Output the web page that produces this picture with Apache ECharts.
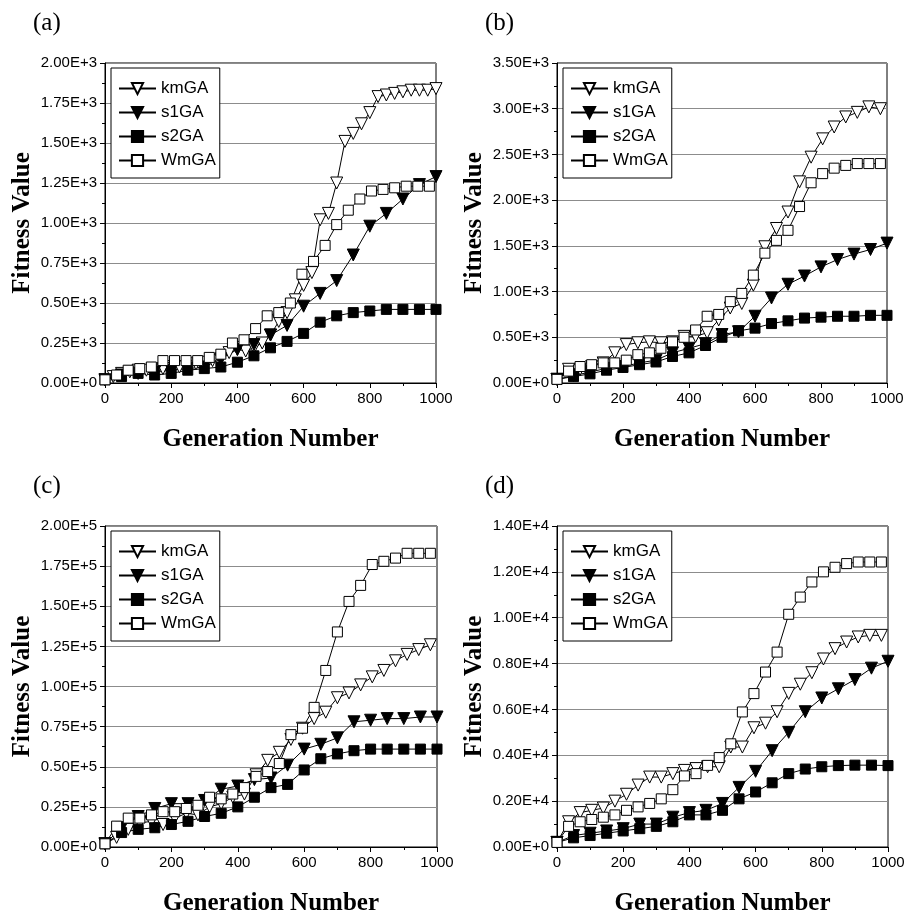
<!DOCTYPE html>
<html>
<head>
<meta charset="utf-8">
<script src="https://cdn.jsdelivr.net/npm/echarts@6/dist/echarts.min.js"></script>
<style>
html,body{margin:0;padding:0;background:#fff}
#main{width:905px;height:914px}
</style>
</head>
<body>
<div id="main"></div>
<script>
// generation numbers where markers sit
var gen25=[0,25,50,75,100,125,150,175,200,225,250,275,300,325,350,375,400,425,450,475,500,525,550,575,600,625,650,675,700,725,750,775,800,825,850,875,900,925,950,975,1000];
var gen35=[0,35,70,105,140,175,210,245,280,315,350,385,420,455,490,525,560,595,630,665,700,735,770,805,840,875,910,945,980];
var gen50=[0,50,100,150,200,250,300,350,400,450,500,550,600,650,700,750,800,850,900,950,1000];

// (a) values in E+3
var kmA=[0.02,0.04,0.06,0.07,0.08,0.08,0.08,0.09,0.09,0.10,0.11,0.12,0.13,0.14,0.15,0.19,0.21,0.20,0.22,0.25,0.30,0.385,0.44,0.52,0.61,0.69,1.02,1.06,1.25,1.51,1.56,1.62,1.69,1.79,1.80,1.81,1.82,1.83,1.83,1.83,1.84];
var s1A=[0.02,0.05,0.06,0.07,0.08,0.09,0.10,0.15,0.21,0.24,0.30,0.36,0.48,0.56,0.64,0.80,0.98,1.06,1.15,1.24,1.29];
var s2A=[0.02,0.04,0.06,0.05,0.06,0.08,0.09,0.10,0.13,0.17,0.22,0.26,0.31,0.38,0.42,0.44,0.45,0.46,0.46,0.46,0.46];
var wmA=[0.02,0.05,0.08,0.09,0.10,0.14,0.14,0.14,0.14,0.16,0.18,0.25,0.27,0.34,0.42,0.44,0.50,0.68,0.76,0.86,0.99,1.08,1.15,1.20,1.21,1.22,1.23,1.23,1.23];

// (b) values in E+3
var kmB=[0.04,0.15,0.15,0.18,0.22,0.33,0.42,0.44,0.45,0.44,0.45,0.51,0.51,0.55,0.69,0.82,0.87,1.07,1.49,1.69,1.87,2.20,2.47,2.67,2.80,2.91,2.96,3.02,3.00];
var s1B=[0.04,0.08,0.12,0.16,0.18,0.22,0.25,0.33,0.38,0.43,0.53,0.56,0.73,0.93,1.08,1.17,1.27,1.35,1.41,1.46,1.53];
var s2B=[0.04,0.07,0.10,0.14,0.17,0.20,0.23,0.29,0.33,0.41,0.50,0.57,0.60,0.65,0.68,0.71,0.72,0.73,0.73,0.74,0.74];
var wmB=[0.04,0.13,0.18,0.20,0.22,0.22,0.25,0.31,0.33,0.38,0.45,0.50,0.58,0.73,0.75,0.89,0.98,1.18,1.42,1.56,1.67,1.93,2.19,2.29,2.35,2.38,2.40,2.40,2.40];

// (c) values in E+5
var kmC=[0.02,0.06,0.11,0.15,0.16,0.14,0.18,0.21,0.20,0.25,0.27,0.31,0.33,0.45,0.54,0.59,0.67,0.74,0.80,0.84,0.93,0.96,1.01,1.06,1.10,1.16,1.20,1.23,1.26];
var s1C=[0.02,0.12,0.19,0.24,0.27,0.27,0.29,0.36,0.38,0.42,0.43,0.51,0.61,0.64,0.68,0.78,0.79,0.80,0.80,0.81,0.81];
var s2C=[0.02,0.09,0.11,0.12,0.14,0.16,0.19,0.21,0.25,0.31,0.37,0.39,0.48,0.55,0.58,0.60,0.61,0.61,0.61,0.61,0.61];
var wmC=[0.02,0.13,0.18,0.18,0.20,0.22,0.22,0.24,0.26,0.31,0.30,0.33,0.37,0.44,0.47,0.52,0.70,0.74,0.87,1.10,1.34,1.53,1.63,1.76,1.78,1.80,1.83,1.83,1.83];

// (d) values in E+4
var kmD=[0.02,0.11,0.15,0.16,0.17,0.20,0.23,0.27,0.305,0.305,0.32,0.334,0.342,0.35,0.35,0.436,0.436,0.52,0.54,0.59,0.67,0.71,0.76,0.82,0.865,0.894,0.916,0.923,0.923];
var s1D=[0.02,0.05,0.06,0.07,0.08,0.10,0.10,0.13,0.15,0.16,0.19,0.26,0.33,0.42,0.50,0.59,0.65,0.69,0.73,0.78,0.81];
var s2D=[0.02,0.04,0.05,0.06,0.07,0.08,0.09,0.11,0.14,0.14,0.16,0.21,0.24,0.28,0.32,0.34,0.35,0.355,0.357,0.357,0.355];
var wmD=[0.02,0.09,0.11,0.12,0.13,0.14,0.16,0.175,0.19,0.21,0.25,0.31,0.32,0.356,0.39,0.45,0.589,0.669,0.763,0.85,1.015,1.09,1.156,1.20,1.22,1.236,1.243,1.243,1.243];

var names=['kmGA','s1GA','s2GA','WmGA'];

var panels=[
  {tag:'(a)',exp:3,max:2.0,step:0.25,x:105,y:63,w:331,h:320,km:[gen25,kmA],s1:s1A,s2:s2A,wm:wmA},
  {tag:'(b)',exp:3,max:3.5,step:0.5,x:557,y:63,w:330,h:320,km:[gen35,kmB],s1:s1B,s2:s2B,wm:wmB},
  {tag:'(c)',exp:5,max:2.0,step:0.25,x:105,y:526,w:332,h:321,km:[gen35,kmC],s1:s1C,s2:s2C,wm:wmC},
  {tag:'(d)',exp:4,max:1.4,step:0.2,x:557,y:526,w:331,h:321,km:[gen35,kmD],s1:s1D,s2:s2D,wm:wmD}
];

function pts(xs,ys){return xs.map(function(x,i){return [x,ys[i]];});}

function line(name,gi,data,sym,filled,size){
  return {
    type:'line',name:name,xAxisIndex:gi,yAxisIndex:gi,data:data,
    symbol:sym,symbolSize:size,symbolRotate:sym==='triangle'?180:0,
    color:'#000',lineStyle:{color:'#000',width:1},
    itemStyle:{color:filled?'#000':'#fff',borderColor:'#000',borderWidth:1},
    emphasis:{disabled:true},animation:false,clip:true
  };
}

var grid=[],xAxis=[],yAxis=[],series=[],legend=[],title=[];
var black='#000';
panels.forEach(function(p,i){
  grid.push({left:p.x,top:p.y,width:p.w,height:p.h,show:true,borderColor:black,borderWidth:1,containLabel:false,outerBoundsMode:'none'});
  xAxis.push({
    gridIndex:i,type:'value',min:0,max:1000,interval:200,
    name:'Generation Number',nameLocation:'middle',nameGap:44,
    nameTextStyle:{fontFamily:'Liberation Serif',fontWeight:'bold',fontSize:25,color:black},
    axisLine:{onZero:false,lineStyle:{color:black,width:1}},
    axisTick:{show:true,inside:false,length:5,lineStyle:{color:black}},
    minorTick:{show:true,splitNumber:2,length:3,lineStyle:{color:black}},
    axisLabel:{fontFamily:'Liberation Sans',fontSize:15,color:black,margin:8,
      formatter:function(v){return String(v);}},
    splitLine:{show:false}
  });
  yAxis.push({
    gridIndex:i,type:'value',min:0,max:p.max,interval:p.step,
    name:'Fitness Value',nameLocation:'middle',nameGap:70,
    nameTextStyle:{fontFamily:'Liberation Serif',fontWeight:'bold',fontSize:25,color:black},
    axisLine:{onZero:false,lineStyle:{color:black,width:1}},
    axisTick:{show:true,inside:false,length:5,lineStyle:{color:black}},
    minorTick:{show:true,splitNumber:2,length:3,lineStyle:{color:black}},
    axisLabel:{fontFamily:'Liberation Sans',fontSize:15,color:black,margin:8,
      formatter:function(v){return v===0?'0.00E+0':v.toFixed(2)+'E+'+p.exp;}},
    splitLine:{show:true,lineStyle:{color:'#8c8c8c',width:1}}
  });
  series.push(line('kmGA',i,pts(p.km[0],p.km[1]),'triangle',false,12));
  series.push(line('s1GA',i,pts(gen50,p.s1),'triangle',true,12));
  series.push(line('s2GA',i,pts(gen50,p.s2),'rect',true,10));
  series.push(line('WmGA',i,pts(gen35,p.wm),'rect',false,10));
  legend.push({
    left:p.x+6,top:p.y+5,orient:'vertical',data:names,selectedMode:false,
    borderColor:black,borderWidth:1,backgroundColor:'#fff',
    padding:[12,4,9,7],itemGap:7,itemWidth:37,itemHeight:14,
    textStyle:{fontFamily:'Liberation Sans',fontSize:17,color:black}
  });
  title.push({
    text:p.tag,left:p.x-72,top:p.y-52,padding:0,
    textStyle:{fontFamily:'Liberation Serif',fontWeight:'normal',fontSize:25,color:black}
  });
});

var chart=echarts.init(document.getElementById('main'),null,{renderer:'canvas'});
chart.setOption({
  backgroundColor:'#fff',animation:false,
  title:title,grid:grid,xAxis:xAxis,yAxis:yAxis,legend:legend,series:series,
  tooltip:{show:false}
});
window.addEventListener('resize',function(){chart.resize();});
</script>
</body>
</html>
